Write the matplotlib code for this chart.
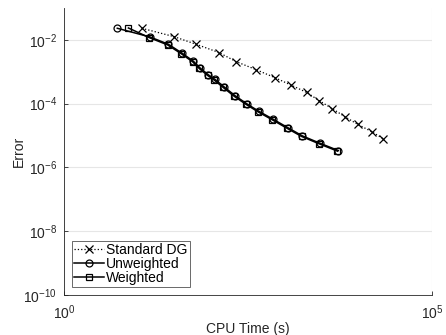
import matplotlib
matplotlib.use("Agg")
import matplotlib.pyplot as plt

plt.rcParams["font.family"] = ["Liberation Sans", "DejaVu Sans"]
plt.rcParams["mathtext.fontset"] = "custom"
plt.rcParams["mathtext.rm"] = "Liberation Sans"

standard_time = [11.4, 31.2, 62, 128, 217, 403, 729, 1214, 1985, 2944, 4420, 6635, 9780, 15160, 21800]
standard_err = [0.0232, 0.0127, 0.00734, 0.00401, 0.0021, 0.00118, 6.6e-4, 3.84e-4, 2.25e-4,
                1.24e-4, 6.98e-5, 3.84e-5, 2.25e-5, 1.33e-5, 7.9e-6]

unweighted_time = [5.3, 14.7, 26.1, 39.7, 57.1, 70.4, 91.4, 113, 149, 211, 303, 446, 698, 1095,
                   1729, 3006, 5330]
unweighted_err = [0.0232, 0.0124, 0.00734, 0.00392, 0.00216, 0.00133, 8.05e-4, 5.74e-4, 3.4e-4,
                  1.78e-4, 1.0e-4, 5.74e-5, 3.23e-5, 1.78e-5, 9.8e-6, 5.74e-6, 3.4e-6]

weighted_time = [7.5, 14.3, 25.5, 38.8, 55.8, 68.8, 89.3, 110, 145, 206, 296, 436, 680, 1070,
                 1690, 2940, 5200]
weighted_err = [0.0237, 0.0119, 0.0070, 0.00375, 0.00207, 0.00127, 7.7e-4, 5.5e-4, 3.25e-4,
                1.7e-4, 9.6e-5, 5.5e-5, 3.1e-5, 1.7e-5, 9.4e-6, 5.5e-6, 3.25e-6]

fig = plt.figure(figsize=(4.46, 3.35), dpi=100)
ax = fig.add_axes([0.1435, 0.1194, 0.8251, 0.8566])

ax.loglog(standard_time, standard_err, color="black", linestyle=":", linewidth=0.9,
          marker="x", markersize=6, markeredgewidth=0.9, label="Standard DG")
ax.loglog(unweighted_time, unweighted_err, color="black", linestyle="-", linewidth=1.1,
          marker="o", markersize=5, markerfacecolor="none", markeredgewidth=0.9,
          label="Unweighted")
ax.loglog(weighted_time, weighted_err, color="black", linestyle="-", linewidth=1.1,
          marker="s", markersize=4, markerfacecolor="none", markeredgewidth=0.9,
          label="Weighted")

ax.set_xlim(1, 1e5)
ax.set_ylim(1e-10, 1e-1)
ax.set_xticks([1, 1e5])
ax.set_xticks([], minor=True)
ax.set_yticks([1e-10, 1e-8, 1e-6, 1e-4, 1e-2])
ax.set_yticks([], minor=True)
ax.tick_params(direction="in", length=3, labelsize=10, colors="#262626", width=0.6)
ax.tick_params(axis="x", pad=6)
ax.tick_params(axis="y", pad=5)
ax.grid(True, which="major", color="#e6e6e6", linewidth=0.8)
ax.set_axisbelow(True)

for side in ["top", "right"]:
    ax.spines[side].set_visible(False)
for side in ["left", "bottom"]:
    ax.spines[side].set_color("#262626")
    ax.spines[side].set_linewidth(0.6)

ax.set_xlabel("CPU Time (s)", fontsize=10, color="#262626", labelpad=0)
ax.set_ylabel("Error", fontsize=10, color="#262626", labelpad=-2)

leg = ax.legend(loc="lower left", fontsize=10, frameon=True, fancybox=False,
                borderpad=0.15, labelspacing=0.0, handlelength=2.1, handletextpad=0.2,
                borderaxespad=0.6)
leg.get_frame().set_edgecolor("#262626")
leg.get_frame().set_linewidth(0.6)

fig.savefig("out.png", dpi=100)
